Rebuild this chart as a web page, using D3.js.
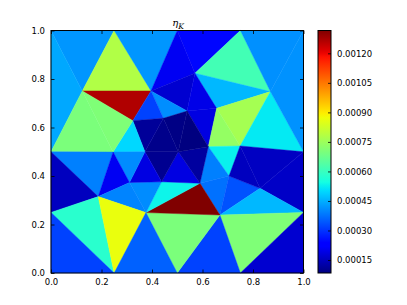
<!DOCTYPE html>
<html>
<head>
<meta charset="utf-8">
<script src="https://cdn.jsdelivr.net/npm/d3@7"></script>
<style>
  body { margin: 0; background: #fff; }
  svg text { font-family: "DejaVu Sans", sans-serif; font-size: 8.5px; fill: #000; }
</style>
</head>
<body>
<svg id="chart" width="407" height="305"></svg>
<script>
// mesh nodes (unit square)
const nodeX = [0, 0.25, 0.5, 0.75, 1, 1, 1, 1, 0.75, 0.5, 0.25, 0, 0, 0,
  0.124, 0.396, 0.324, 0.570, 0.539, 0.445, 0.656, 0.869, 0.246, 0.372, 0.504,
  0.623, 0.749, 0.311, 0.438, 0.590, 0.705, 0.828, 0.187, 0.376, 0.669];
const nodeY = [0, 0, 0, 0, 0, 0.25, 0.5, 1, 1, 1, 1, 1, 0.5, 0.25,
  0.751, 0.751, 0.628, 0.824, 0.668, 0.638, 0.679, 0.748, 0.499, 0.500, 0.500,
  0.521, 0.524, 0.373, 0.376, 0.370, 0.400, 0.349, 0.315, 0.249, 0.239];

// triangles (node indices) and the value on each of them
const triangles = [
  [11, 10, 14], [11, 14, 12], [10, 15, 14], [14, 15, 16], [10, 9, 15], [9, 8, 17],
  [9, 17, 15], [15, 17, 18], [15, 18, 19], [15, 19, 16], [17, 8, 21], [17, 21, 20],
  [17, 20, 18], [18, 20, 25], [20, 21, 26], [20, 26, 25], [21, 6, 26], [8, 7, 21],
  [7, 6, 21], [25, 26, 30], [25, 30, 29], [29, 30, 34], [30, 31, 34], [26, 31, 30],
  [26, 6, 31], [31, 6, 5], [34, 31, 5], [34, 5, 3], [3, 5, 4], [2, 34, 3],
  [33, 34, 2], [33, 29, 34], [28, 29, 33], [27, 28, 33], [28, 24, 29], [24, 25, 29],
  [18, 25, 24], [19, 18, 24], [19, 23, 24], [23, 24, 28], [16, 19, 23], [27, 23, 28],
  [16, 22, 23], [22, 23, 27], [14, 16, 22], [14, 12, 22], [12, 22, 32], [22, 27, 32],
  [32, 27, 33], [12, 32, 13], [13, 32, 1], [32, 33, 1], [0, 13, 1], [1, 33, 2]
];
const etaValues = [
  0.000419, 0.000441, 0.000780, 0.001264, 0.000419, 0.000244,
  0.000207, 0.000170, 0.000410, 0.000318, 0.000614, 0.000460,
  0.000195, 0.000189, 0.000762, 0.000737, 0.000521, 0.000412,
  0.000414, 0.000528, 0.000392, 0.000374, 0.000337, 0.000152,
  0.000155, 0.000160, 0.000460, 0.000706, 0.000170, 0.000318,
  0.000700, 0.001316, 0.000534, 0.000407, 0.000189, 0.000118,
  0.000084, 0.000090, 0.000096, 0.000102, 0.000111, 0.000189,
  0.000499, 0.000407, 0.000706, 0.000700, 0.000392, 0.000207,
  0.000398, 0.000152, 0.000577, 0.000866, 0.000318, 0.000355
];

const axisTicks = [0, 0.2, 0.4, 0.6, 0.8, 1.0];
const cbarTicks = [0.00015, 0.00030, 0.00045, 0.00060, 0.00075, 0.00090, 0.00105, 0.00120];

const svg = d3.select('#chart');
const plotLeft = 51, plotRight = 303.5, plotTop = 30.5, plotBottom = 273;
const cbarLeft = 318, cbarRight = 331;

const x = d3.scaleLinear().domain([0, 1]).range([plotLeft, plotRight]);
const y = d3.scaleLinear().domain([0, 1]).range([plotBottom, plotTop]);

// jet colormap
const jetR = d3.scaleLinear().domain([0, 0.35, 0.66, 0.89, 1]).range([0, 0, 1, 1, 0.5]).clamp(true);
const jetG = d3.scaleLinear().domain([0, 0.125, 0.375, 0.64, 0.91, 1]).range([0, 0, 1, 1, 0, 0]).clamp(true);
const jetB = d3.scaleLinear().domain([0, 0.11, 0.34, 0.65, 1]).range([0.5, 1, 1, 0, 0]).clamp(true);
const jet = (t) => d3.rgb(jetR(t) * 255, jetG(t) * 255, jetB(t) * 255).toString();

const vmin = d3.min(etaValues), vmax = d3.max(etaValues);
const color = d3.scaleSequential(jet).domain([vmin, vmax]);

// mesh
svg.append('g')
  .selectAll('path')
  .data(triangles)
  .enter()
  .append('path')
  .attr('d', (tri) => 'M' + tri.map((i) => x(nodeX[i]) + ',' + y(nodeY[i])).join('L') + 'Z')
  .attr('fill', (tri, i) => color(etaValues[i]))
  .attr('stroke', (tri, i) => color(etaValues[i]))
  .attr('stroke-width', 0.4)
  .attr('stroke-linejoin', 'round');

// axes, ticks pointing inward on all four sides
const mkAxis = (axis, scale, withLabels) => axis(scale)
  .tickValues(axisTicks)
  .tickSizeInner(-3.5)
  .tickSizeOuter(0)
  .tickPadding(withLabels ? 6 : 0)
  .tickFormat(withLabels ? d3.format('.1f') : '');

const axes = [
  [d3.axisBottom, x, true, 'translate(0,' + plotBottom + ')'],
  [d3.axisTop, x, false, 'translate(0,' + plotTop + ')'],
  [d3.axisLeft, y, true, 'translate(' + plotLeft + ',0)'],
  [d3.axisRight, y, false, 'translate(' + plotRight + ',0)']
];
axes.forEach(([axis, scale, withLabels, tr]) => {
  const g = svg.append('g').attr('transform', tr).call(mkAxis(axis, scale, withLabels));
  g.select('.domain').remove();
  g.selectAll('.tick line').attr('stroke', '#000').attr('stroke-width', 0.8);
  g.selectAll('text').attr('font-family', null).attr('font-size', null);
});

svg.append('rect')
  .attr('x', plotLeft).attr('y', plotTop)
  .attr('width', plotRight - plotLeft).attr('height', plotBottom - plotTop)
  .attr('fill', 'none').attr('stroke', '#000').attr('stroke-width', 1);

// title
const title = svg.append('text')
  .attr('x', (plotLeft + plotRight) / 2 - 5)
  .attr('y', 26)
  .style('font-family', '"DejaVu Serif", serif')
  .style('font-style', 'italic')
  .style('font-size', '10px');
title.append('tspan').text('η');
title.append('tspan').attr('dy', 2.5).style('font-size', '7.5px').text('K');

// colorbar
const cbarScale = d3.scaleLinear().domain([vmin, vmax]).range([plotBottom, plotTop]);
const grad = svg.append('defs').append('linearGradient')
  .attr('id', 'cbarGrad').attr('x1', 0).attr('y1', 1).attr('x2', 0).attr('y2', 0);
d3.range(0, 1.0001, 1 / 64).forEach((t) => {
  grad.append('stop').attr('offset', t).attr('stop-color', jet(t));
});
svg.append('rect')
  .attr('x', cbarLeft).attr('y', plotTop)
  .attr('width', cbarRight - cbarLeft).attr('height', plotBottom - plotTop)
  .attr('fill', 'url(#cbarGrad)')
  .attr('stroke', '#000').attr('stroke-width', 1);

const cbarAxis = svg.append('g')
  .attr('transform', 'translate(' + cbarRight + ',0)')
  .call(d3.axisRight(cbarScale)
    .tickValues(cbarTicks)
    .tickSizeInner(-3)
    .tickSizeOuter(0)
    .tickPadding(6)
    .tickFormat(d3.format('.5f')));
cbarAxis.select('.domain').remove();
cbarAxis.selectAll('.tick line').attr('stroke', '#000').attr('stroke-width', 0.8);
cbarAxis.selectAll('text').attr('font-family', null).attr('font-size', null);
</script>
</body>
</html>
